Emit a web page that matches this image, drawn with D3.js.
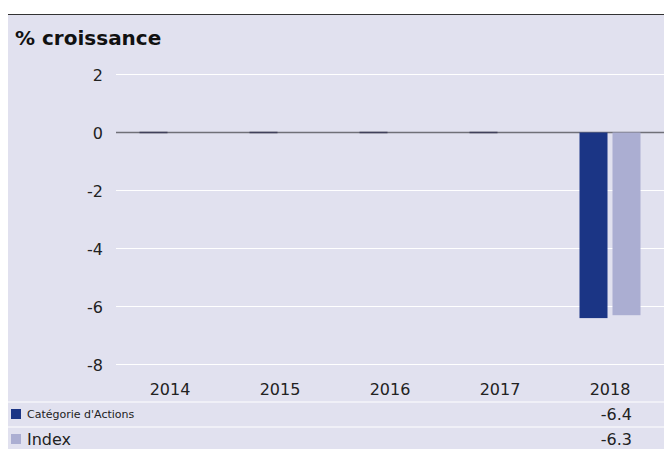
<!DOCTYPE html>
<meta charset="utf-8">
<script src="https://d3js.org/d3.v7.min.js"></script>
<style>
  body { margin: 0; background: #fff; }
  text { font-family: "DejaVu Sans", Verdana, sans-serif; fill: #222; }
</style>
<body>
<div id="chart"></div>
<script>
  // Data
  var years = ["2014", "2015", "2016", "2017", "2018"];
  var categorieValues = [0, 0, 0, 0, -6.4];
  var indexValues = [0, 0, 0, 0, -6.3];
  var seriesNames = ["Catégorie d'Actions", "Index"];
  var yTicks = [2, 0, -2, -4, -6, -8];

  var W = 664, H = 449;
  var colors = ["#1b3585", "#abaed2"];

  var svg = d3.select("#chart").append("svg")
    .attr("width", W).attr("height", H);

  // Background panel
  svg.append("rect").attr("x", 8).attr("y", 14).attr("width", W - 8).attr("height", H - 14)
    .attr("fill", "#e1e1ef");
  svg.append("line").attr("x1", 8).attr("x2", W).attr("y1", 14.5).attr("y2", 14.5)
    .attr("stroke", "#333").attr("stroke-width", 1);

  svg.append("text").attr("x", 15).attr("y", 45)
    .style("font-weight", "bold").style("font-size", "20px").style("fill", "#111")
    .text("% croissance");

  var x = d3.scaleBand().domain(years).range([115, 665]);
  var y = d3.scaleLinear().domain([-8, 2]).range([364.5, 74.5]);
  var fmt = function(d) { return d3.format(".1f")(d).replace("\u2212", "-"); };

  // Grid lines + y labels
  svg.selectAll("line.grid").data(yTicks).enter().append("line")
    .attr("class", "grid")
    .attr("x1", 116).attr("x2", W)
    .attr("y1", function(d) { return y(d); }).attr("y2", function(d) { return y(d); })
    .attr("stroke", function(d) { return d === 0 ? "#707078" : "#fff"; })
    .attr("stroke-width", function(d) { return d === 0 ? 1.5 : 1.2; });

  svg.selectAll("text.ylab").data(yTicks).enter().append("text")
    .attr("class", "ylab")
    .attr("x", 103).attr("y", function(d) { return y(d) + 6; })
    .attr("text-anchor", "end").style("font-size", "16px")
    .text(function(d) { return String(d); });

  // Bars
  var barW = 28, gap = 5;
  [categorieValues, indexValues].forEach(function(vals, i) {
    svg.selectAll("rect.s" + i).data(vals).enter().append("rect")
      .attr("class", "s" + i)
      .attr("x", function(d, j) {
        var c = x(years[j]) + x.bandwidth() / 2;
        return i === 0 ? c - gap / 2 - barW : c + gap / 2;
      })
      .attr("y", function(d) { return d === 0 ? y(0) - 0.75 : Math.min(y(0), y(d)); })
      .attr("width", barW)
      .attr("height", function(d) { return d === 0 ? 1.5 : Math.abs(y(d) - y(0)); })
      .attr("fill", function(d) { return d === 0 && i === 0 ? "#40405a" : colors[i]; })
      .attr("opacity", function(d) { return d === 0 && i === 1 ? 0 : 1; });
  });

  // X labels
  svg.selectAll("text.xlab").data(years).enter().append("text")
    .attr("class", "xlab")
    .attr("x", function(d) { return x(d) + x.bandwidth() / 2; })
    .attr("y", 395).attr("text-anchor", "middle").style("font-size", "16px")
    .text(function(d) { return d; });

  // Data table rows
  var rowTop = [402, 427];
  svg.selectAll("line.row").data(rowTop).enter().append("line")
    .attr("x1", 8).attr("x2", W)
    .attr("y1", function(d) { return d; }).attr("y2", function(d) { return d; })
    .attr("stroke", "#fff").attr("stroke-width", 1.2);

  var rows = [categorieValues, indexValues];
  rows.forEach(function(vals, i) {
    var cy = rowTop[i] + 12;
    svg.append("rect").attr("x", 11).attr("y", cy - 5).attr("width", 10).attr("height", 10)
      .attr("fill", colors[i]);
    svg.append("text").attr("x", 27).attr("y", cy + (i === 0 ? 4 : 6))
      .style("font-size", i === 0 ? "11px" : "16px").text(seriesNames[i]);
    svg.selectAll("text.val" + i).data(vals).enter().append("text")
      .filter(function(d) { return d !== 0; })
      .attr("x", 632)
      .attr("y", cy + 6).attr("text-anchor", "end").style("font-size", "16px")
      .text(fmt);
  });
</script>
</body>
